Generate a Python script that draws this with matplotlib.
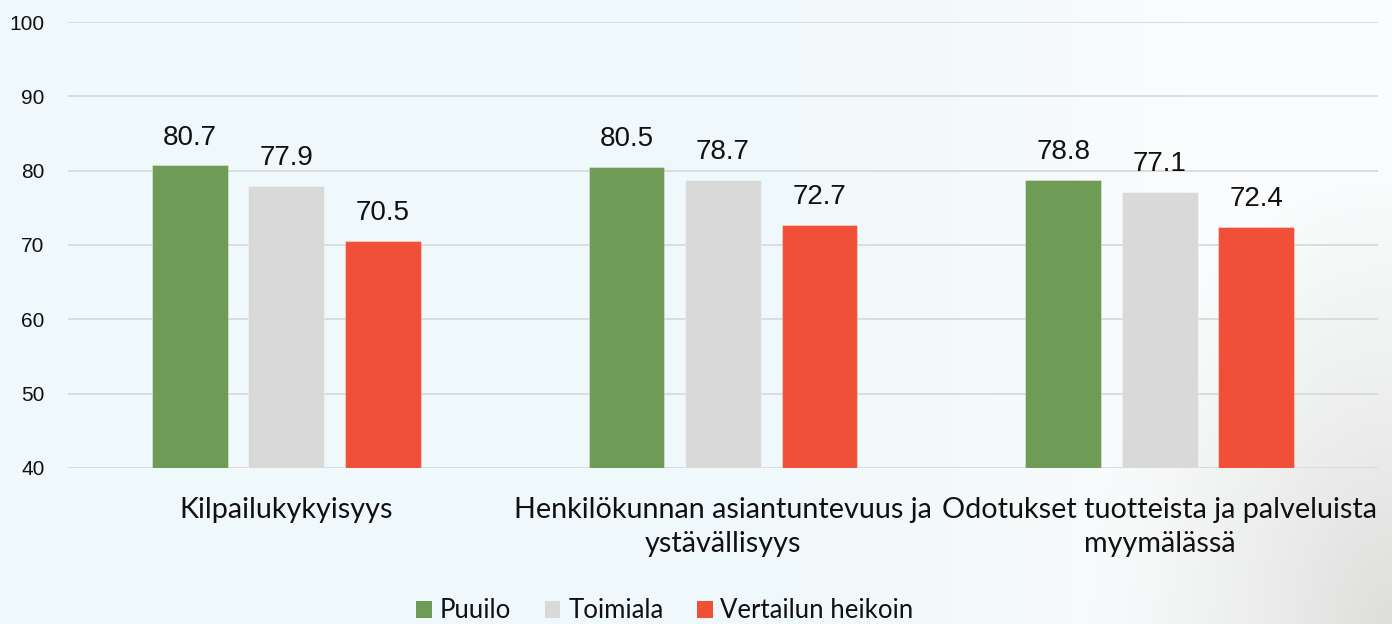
import numpy as np
import matplotlib
matplotlib.use("Agg")
import matplotlib.pyplot as plt
from matplotlib.patches import Patch

categories = ["Kilpailukykyisyys",
              "Henkilökunnan asiantuntevuus ja\nystävällisyys",
              "Odotukset tuotteista ja palveluista\nmyymälässä"]
series_names = ["Puuilo", "Toimiala", "Vertailun heikoin"]
puuilo = [80.7, 80.5, 78.8]
toimiala = [77.9, 78.7, 77.1]
heikoin = [70.5, 72.7, 72.4]
yticks = [40, 50, 60, 70, 80, 90, 100]

colors = ["#6E9B55", "#D9D9D9", "#F05038"]
W, H = 1392, 624
fig = plt.figure(figsize=(W / 100, H / 100), dpi=100)

# background gradient
u = np.linspace(0, 1, W)[None, :]
v = np.linspace(0, 1, H)[:, None]
base = np.array([239, 248, 250]) / 255.0
white = np.array([250, 252, 253]) / 255.0
gray = np.array([222, 222, 220]) / 255.0
ww = np.clip((u - 0.55) / 0.3, 0, 1) * np.ones_like(v)
img = base[None, None, :] * (1 - ww[..., None]) + white[None, None, :] * ww[..., None]
d = np.sqrt(((1 - u) / 0.22) ** 2 + ((1 - v) / 0.75) ** 2)
g = np.clip(1 - d, 0, 1) ** 1.2
img = img * (1 - g[..., None]) + gray[None, None, :] * g[..., None]
bg = fig.add_axes([0, 0, 1, 1], zorder=-10)
bg.imshow(img, aspect="auto", extent=[0, 1, 0, 1], origin="upper")
bg.axis("off")

ax = fig.add_axes([68 / W, (H - 468) / H, (1378 - 68) / W, (468 - 22) / H])
ax.patch.set_alpha(0)
x = np.arange(len(categories))
off = 0.221
bw = 0.174
for i, (vals, c) in enumerate(zip([puuilo, toimiala, heikoin], colors)):
    ax.bar(x + (i - 1) * off, [vv - 40 for vv in vals], bottom=40, width=bw,
           color=c, edgecolor=(1, 1, 1, 0.35), linewidth=0.8, zorder=3)
    for xi, vv in zip(x + (i - 1) * off, vals):
        ax.annotate(f"{vv:.1f}", (xi, vv), xytext=(0, 15), textcoords="offset points",
                    ha="center", va="baseline", fontsize=20,
                    family="Liberation Sans", color="#111111")

ax.set_xlim(-0.5, 2.5)
ax.set_ylim(40, 100)
ax.set_yticks(yticks)
ax.set_yticklabels([str(t) for t in yticks], family="Liberation Sans", fontsize=15, color="#111111")
ax.yaxis.grid(True, color="#D9D9D9", linewidth=1.3, zorder=0)
ax.set_axisbelow(True)
ax.tick_params(axis="y", length=0, pad=17)
ax.tick_params(axis="x", length=0, pad=21)
ax.set_xticks(x)
ax.set_xticklabels(categories, family="Lato", fontsize=20.7, color="#111111", linespacing=1.35)
for s in ax.spines.values():
    s.set_visible(False)

handles = [Patch(facecolor=c, edgecolor="none") for c in colors]
fig.legend(handles, series_names, loc="center", bbox_to_anchor=(665 / W, (H - 611) / H),
           ncol=3, frameon=False, prop={"family": "Lato", "size": 18.5},
           handlelength=0.62, handleheight=0.62, handletextpad=0.3, columnspacing=1.3,
           borderpad=0, borderaxespad=0, labelcolor="#111111")

fig.savefig("out.png", dpi=100)
